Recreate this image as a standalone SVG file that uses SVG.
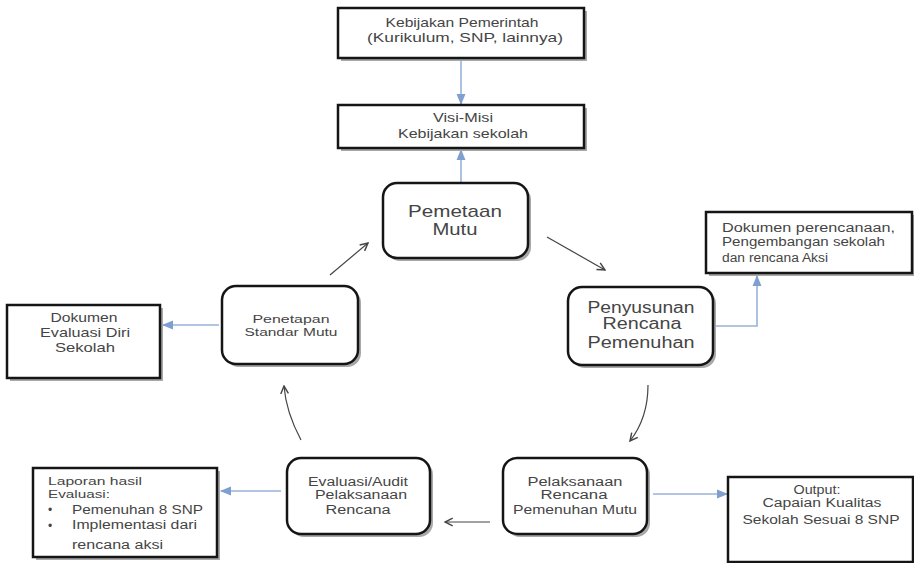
<svg xmlns="http://www.w3.org/2000/svg" width="914" height="563" viewBox="0 0 914 563">
<defs>
<marker id="ab" viewBox="0 0 10 10" refX="9" refY="5" markerWidth="7" markerHeight="7" orient="auto-start-reverse"><path d="M0,1 L10,5 L0,9 Z" fill="#7f9fcf"/></marker>
<marker id="ag" viewBox="0 0 10 10" refX="9" refY="5" markerWidth="8" markerHeight="8" orient="auto-start-reverse"><path d="M1,1 L9,5 L1,9" fill="none" stroke="#444" stroke-width="1.5"/></marker>
</defs>
<style>
text{font-family:"Liberation Sans",Arial,sans-serif;fill:#454545;}
.box{fill:#fff;stroke:#151515;stroke-width:2.5;}
.sh{fill:#a8a8a8;}
.blue{fill:none;stroke:#98b3da;stroke-width:1.6;}
.gray{fill:none;stroke:#444;stroke-width:1.2;}
.t{font-size:10px;}
.s{font-size:12px;}
.m{font-size:13px;}
.l{font-size:16px;}
.xl{font-size:17px;}
</style>
<rect width="914" height="563" fill="#fff"/>
<g id="connectors">
<line class="blue" x1="461" y1="59" x2="461" y2="104" marker-end="url(#ab)"/>
<line class="blue" x1="461" y1="182" x2="461" y2="150" marker-end="url(#ab)"/>
<line class="gray" x1="547" y1="237" x2="605" y2="270" marker-end="url(#ag)"/>
<polyline class="blue" points="715,326 757,326 757,276" marker-end="url(#ab)"/>
<path class="gray" d="M648,385 Q648,418 630,441" marker-end="url(#ag)"/>
<line class="blue" x1="653" y1="494" x2="727" y2="494" marker-end="url(#ab)"/>
<line class="gray" x1="490" y1="522" x2="445" y2="522" marker-end="url(#ag)"/>
<line class="blue" x1="281" y1="491" x2="221" y2="491" marker-end="url(#ab)"/>
<path class="gray" d="M301,440 Q286,412 284,386" marker-end="url(#ag)"/>
<line class="blue" x1="219" y1="325" x2="163" y2="325" marker-end="url(#ab)"/>
<line class="gray" x1="330" y1="275" x2="368" y2="243" marker-end="url(#ag)"/>
</g>
<g id="kebijakan-pemerintah">
<rect class="sh" x="341" y="11" width="246" height="50"/>
<rect class="box" x="338" y="8" width="246" height="50"/>
<text class="m" x="462" y="27" text-anchor="middle" textLength="153" lengthAdjust="spacingAndGlyphs">Kebijakan Pemerintah</text>
<text class="m" x="465" y="42" text-anchor="middle" textLength="196" lengthAdjust="spacingAndGlyphs">(Kurikulum, SNP, lainnya)</text>
</g>
<g id="visi-misi">
<rect class="sh" x="341" y="108" width="246" height="43"/>
<rect class="box" x="338" y="105" width="246" height="43"/>
<text class="m" x="463" y="122" text-anchor="middle" textLength="60" lengthAdjust="spacingAndGlyphs">Visi-Misi</text>
<text class="m" x="463" y="138" text-anchor="middle" textLength="130" lengthAdjust="spacingAndGlyphs">Kebijakan sekolah</text>
</g>
<g id="pemetaan-mutu">
<rect class="sh" x="386" y="186" width="145" height="75" rx="14"/>
<rect class="box" x="383" y="183" width="145" height="75" rx="14"/>
<text class="xl" x="455" y="217" text-anchor="middle" textLength="94" lengthAdjust="spacingAndGlyphs">Pemetaan</text>
<text class="xl" x="455" y="235" text-anchor="middle" textLength="45" lengthAdjust="spacingAndGlyphs">Mutu</text>
</g>
<g id="dokumen-perencanaan">
<rect class="sh" x="709" y="215" width="206" height="61"/>
<rect class="box" x="706" y="212" width="206" height="61"/>
<text class="s" x="722" y="232" textLength="173" lengthAdjust="spacingAndGlyphs">Dokumen perencanaan,</text>
<text class="s" x="722" y="246" textLength="163" lengthAdjust="spacingAndGlyphs">Pengembangan sekolah</text>
<text class="s" x="722" y="262" textLength="106" lengthAdjust="spacingAndGlyphs">dan rencana Aksi</text>
</g>
<g id="penyusunan-rencana">
<rect class="sh" x="571" y="290" width="145" height="78" rx="14"/>
<rect class="box" x="568" y="287" width="145" height="78" rx="14"/>
<text class="l" x="641" y="313" text-anchor="middle" textLength="107" lengthAdjust="spacingAndGlyphs">Penyusunan</text>
<text class="l" x="642" y="329" text-anchor="middle" textLength="79" lengthAdjust="spacingAndGlyphs">Rencana</text>
<text class="l" x="641" y="348" text-anchor="middle" textLength="107" lengthAdjust="spacingAndGlyphs">Pemenuhan</text>
</g>
<g id="dokumen-evaluasi">
<rect class="sh" x="10" y="308" width="153" height="73"/>
<rect class="box" x="7" y="305" width="153" height="73"/>
<text class="m" x="84" y="322" text-anchor="middle" textLength="67" lengthAdjust="spacingAndGlyphs">Dokumen</text>
<text class="m" x="85" y="337" text-anchor="middle" textLength="90" lengthAdjust="spacingAndGlyphs">Evaluasi Diri</text>
<text class="m" x="85" y="352" text-anchor="middle" textLength="60" lengthAdjust="spacingAndGlyphs">Sekolah</text>
</g>
<g id="penetapan-standar">
<rect class="sh" x="225" y="289" width="136" height="78" rx="14"/>
<rect class="box" x="222" y="286" width="136" height="78" rx="14"/>
<text class="t" x="291" y="323" text-anchor="middle" textLength="77" lengthAdjust="spacingAndGlyphs">Penetapan</text>
<text class="t" x="291" y="336" text-anchor="middle" textLength="93" lengthAdjust="spacingAndGlyphs">Standar Mutu</text>
</g>
<g id="laporan-hasil">
<rect class="sh" x="36" y="471" width="184" height="89"/>
<rect class="box" x="33" y="468" width="184" height="89"/>
<text class="t" x="48" y="485" textLength="94" lengthAdjust="spacingAndGlyphs">Laporan hasil</text>
<text class="t" x="48" y="498" textLength="62" lengthAdjust="spacingAndGlyphs">Evaluasi:</text>
<text class="s" x="48" y="514">•</text>
<text class="s" x="72" y="514" textLength="131" lengthAdjust="spacingAndGlyphs">Pemenuhan 8 SNP</text>
<text class="s" x="48" y="530">•</text>
<text class="s" x="72" y="529" textLength="125" lengthAdjust="spacingAndGlyphs">Implementasi dari</text>
<text class="s" x="72" y="549" textLength="91" lengthAdjust="spacingAndGlyphs">rencana aksi</text>
</g>
<g id="evaluasi-audit">
<rect class="sh" x="290" y="461" width="143" height="76" rx="14"/>
<rect class="box" x="287" y="458" width="143" height="76" rx="14"/>
<text class="s" x="358" y="486" text-anchor="middle" textLength="100" lengthAdjust="spacingAndGlyphs">Evaluasi/Audit</text>
<text class="s" x="361" y="499" text-anchor="middle" textLength="92" lengthAdjust="spacingAndGlyphs">Pelaksanaan</text>
<text class="s" x="358" y="514" text-anchor="middle" textLength="65" lengthAdjust="spacingAndGlyphs">Rencana</text>
</g>
<g id="pelaksanaan-rencana">
<rect class="sh" x="506" y="461" width="144" height="76" rx="14"/>
<rect class="box" x="503" y="458" width="144" height="76" rx="14"/>
<text class="s" x="575" y="486" text-anchor="middle" textLength="95" lengthAdjust="spacingAndGlyphs">Pelaksanaan</text>
<text class="s" x="574" y="499" text-anchor="middle" textLength="67" lengthAdjust="spacingAndGlyphs">Rencana</text>
<text class="s" x="575" y="514" text-anchor="middle" textLength="124" lengthAdjust="spacingAndGlyphs">Pemenuhan Mutu</text>
</g>
<g id="output">
<rect class="sh" x="731" y="480" width="185" height="85"/>
<rect class="box" x="728" y="477" width="185" height="85"/>
<text class="s" x="817" y="494" text-anchor="middle" textLength="47" lengthAdjust="spacingAndGlyphs">Output:</text>
<text class="s" x="822" y="507" text-anchor="middle" textLength="119" lengthAdjust="spacingAndGlyphs">Capaian Kualitas</text>
<text class="s" x="821" y="524" text-anchor="middle" textLength="157" lengthAdjust="spacingAndGlyphs">Sekolah Sesuai 8 SNP</text>
</g>
</svg>
